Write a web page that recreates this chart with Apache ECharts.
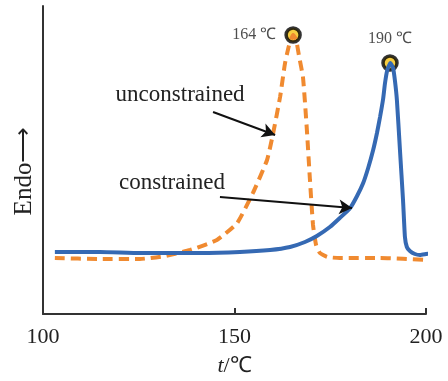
<!DOCTYPE html>
<html><head><meta charset="utf-8">
<script src="https://cdn.jsdelivr.net/npm/echarts@6/dist/echarts.min.js"></script>
<style>html,body{margin:0;padding:0;background:#fff}#c{width:448px;height:381px}</style>
</head><body><div id="c"></div>
<script>
var xTicks = [100, 150, 200];
var constrainedX = [103.1,114.9,125.3,141.0,151.4,159.3,164.5,168.4,171.5,174.9,177.5,180.2,182.0,183.6,184.9,186.2,187.2,188.0,188.8,189.3,189.9,190.7,191.4,191.9,192.4,193.2,194.0,194.5,195.0,195.8,197.1,198.4,200.0,201.6];
var constrainedY = [62,62,61,61,62,64,67,72,78,87,96,106,118,131,146,164,181,197,215,231,244,251,246,233,214,164,114,77,67,63,60,59,60,61];
var unconstrainedX = [103.1,114.9,125.3,131.9,138.4,145.4,150.7,154.8,158.5,160.1,161.9,163.2,164.2,165.3,166.1,166.8,167.9,168.9,169.7,170.5,171.3,172.3,174.2,177.5,188.0,200.3];
var unconstrainedY = [56,55,55,58,64,74,91,121,154,181,217,251,268,279,274,259,236,184,134,89,69,61,57,56,56,54];
var peakX = [165.3, 190.6];
var peakY = [279, 251];
var peakLabels = ['164 ℃', '190 ℃'];
var annotTexts = ['unconstrained', 'constrained'];
var annotTextPos = [[135.8, 219], [133.7, 131]];
var arrowFrom = [[144.4, 202], [146.2, 117]];
var arrowTo = [[160.6, 179], [180.7, 106]];

function zip(a, b) { return a.map(function (v, i) { return [v, b[i]]; }); }
var serif = 'Liberation Serif, Times New Roman, serif';
var chart = echarts.init(document.getElementById('c'));
chart.setOption({
  animation: false,
  grid: { left: 43, right: 22, top: 6, bottom: 67, containLabel: false, outerBoundsMode: 'none' },
  xAxis: {
    type: 'value', min: 100, max: 200, interval: 50,
    axisLine: { lineStyle: { color: '#333', width: 2 } },
    axisTick: { inside: true, length: 6, lineStyle: { color: '#333', width: 2 } },
    splitLine: { show: false },
    axisLabel: { margin: 12, fontFamily: serif, fontSize: 22, color: '#222',
      formatter: function (v) { return xTicks.indexOf(v) >= 0 ? String(v) : ''; } },
    name: '{i|t}/℃', nameLocation: 'middle', nameGap: 41,
    nameTextStyle: { fontFamily: serif, fontSize: 22, color: '#222',
      rich: { i: { fontFamily: serif, fontSize: 22, fontStyle: 'italic', color: '#222' } } }
  },
  yAxis: {
    type: 'value', min: 0, max: 308,
    axisLine: { show: true, lineStyle: { color: '#333', width: 2 } },
    axisTick: { show: false }, axisLabel: { show: false }, splitLine: { show: false }
  },
  graphic: [{
    type: 'text', x: 24, y: 171, rotation: Math.PI / 2,
    style: { text: 'Endo\u27F6', fontFamily: serif, fontSize: 25, fill: '#222', align: 'center', verticalAlign: 'middle' }
  }],
  series: [
    { type: 'line', data: zip(unconstrainedX, unconstrainedY), clip: false, symbol: 'none',
      smooth: 0.15,
      lineStyle: { color: '#f08a30', width: 4, type: [10, 6] } },
    { type: 'line', data: zip(constrainedX, constrainedY), clip: false, symbol: 'none',
      smooth: 0.15,
      lineStyle: { color: '#3569b3', width: 4 },
      markLine: {
        silent: true, symbol: ['none', 'arrow'], symbolSize: [11, 13],
        lineStyle: { color: '#111', width: 2, type: 'solid' }, label: { show: false },
        data: arrowFrom.map(function (f, i) { return [{ coord: f }, { coord: arrowTo[i] }]; })
      },
      markPoint: {
        silent: true, symbol: 'circle', symbolSize: 0,
        label: { show: true, position: 'inside', fontFamily: serif, fontSize: 23, color: '#222',
          formatter: function (p) { return p.name; } },
        data: annotTexts.map(function (t, i) { return { name: t, coord: annotTextPos[i] }; })
      } },
    { type: 'scatter', clip: false, symbol: 'circle', symbolSize: 14,
      itemStyle: { color: '#f5c010', borderColor: '#000', borderWidth: 3.5 },
      data: peakX.map(function (x, i) {
        return { value: [x, peakY[i]], label: { show: true, formatter: peakLabels[i],
          position: i === 0 ? 'left' : 'top', distance: i === 0 ? 8 : 7,
          fontFamily: serif, fontSize: 16, color: '#222' } };
      }) }
  ]
});
</script></body></html>
